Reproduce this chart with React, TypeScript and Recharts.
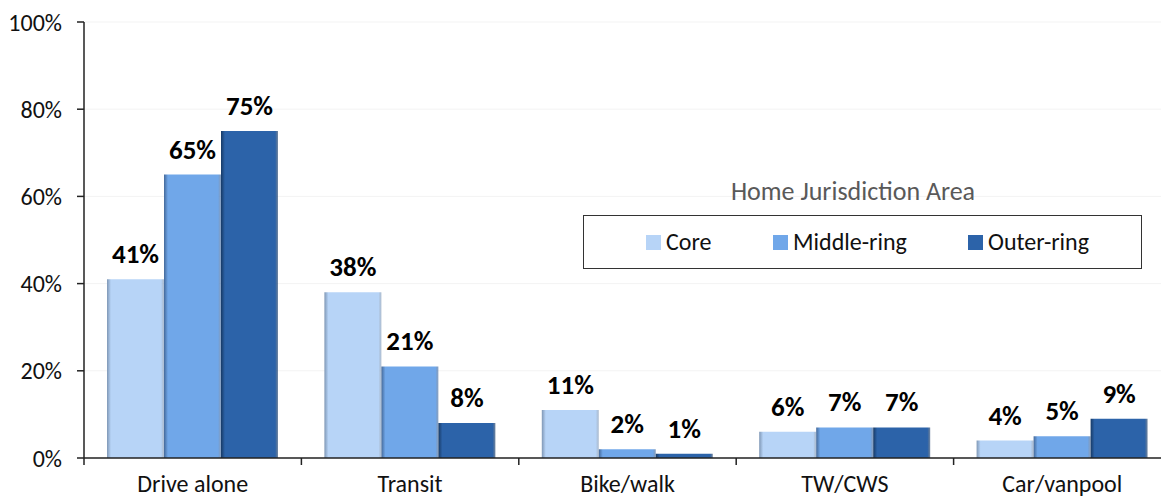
import React from 'react'
import { BarChart, Bar, XAxis, YAxis, CartesianGrid, LabelList } from 'recharts'

// mode share by home jurisdiction area
const categories = ['Drive alone', 'Transit', 'Bike/walk', 'TW/CWS', 'Car/vanpool']
const core = [41, 38, 11, 6, 4]
const middleRing = [65, 21, 2, 7, 5]
const outerRing = [75, 8, 1, 7, 9]
const yTicks = [0, 20, 40, 60, 80, 100]

const SERIES = [
  { key: 'core', name: 'Core', color: '#b7d4f7', edge: '#7f97b5' },
  { key: 'middle', name: 'Middle-ring', color: '#70a7e9', edge: '#44699a' },
  { key: 'outer', name: 'Outer-ring', color: '#2c63a9', edge: '#173a66' },
]

const FONT = "Carlito, Lato, 'Open Sans', sans-serif"

const data = categories.map((name, i) => ({
  name,
  core: core[i],
  middle: middleRing[i],
  outer: outerRing[i],
}))

const CategoryTick = (props: any) => {
  const { x, y, payload, width } = props
  const half = payload && payload.offset ? payload.offset : width / categories.length / 2
  const isLast = payload && payload.index === categories.length - 1
  return (
    <g>
      <line x1={x - half} y1={y} x2={x - half} y2={y + 7} stroke="#222" strokeWidth={1.5} />
      {isLast && <line x1={x + half} y1={y} x2={x + half} y2={y + 7} stroke="#222" strokeWidth={1.5} />}
      <text x={x} y={y + 34} textAnchor="middle" fontSize={24} fill="#111" fontFamily={FONT}>
        {payload.value}
      </text>
    </g>
  )
}

// legend drawn over the plot, like the original
const LegendBox = () => (
  <div style={{ position: 'absolute', left: 0, top: 0, fontFamily: FONT }}>
    <div
      style={{
        position: 'absolute',
        left: 653,
        top: 176,
        width: 400,
        textAlign: 'center',
        fontSize: 26,
        lineHeight: '30px',
        color: '#595959',
        whiteSpace: 'nowrap',
      }}
    >
      Home Jurisdiction Area
    </div>
    <div
      style={{
        position: 'absolute',
        left: 583,
        top: 215,
        width: 559,
        height: 54,
        border: '1px solid #333',
        boxSizing: 'border-box',
      }}
    >
      {SERIES.map((s, i) => (
        <div
          key={s.key}
          style={{
            position: 'absolute',
            left: [62, 189, 384][i],
            top: 11,
            display: 'flex',
            alignItems: 'center',
            fontSize: 24,
            lineHeight: '30px',
            color: '#111',
            whiteSpace: 'nowrap',
          }}
        >
          <span style={{ display: 'inline-block', width: 15, height: 15, background: s.color, marginRight: 5 }} />
          {s.name}
        </div>
      ))}
    </div>
  </div>
)

export default function App() {
  return (
    <div style={{ position: 'absolute', left: 0, top: 0, width: 1161, height: 498, overflow: 'hidden', background: '#fff' }}>
      <BarChart
        width={1171}
        height={498}
        data={data}
        margin={{ top: 22, right: 0, bottom: 0, left: 0 }}
        barCategoryGap={23}
        barGap={0}
      >
        <defs>
          {SERIES.map((s) => (
            <linearGradient key={s.key} id={`grad-${s.key}`} x1="0" y1="0" x2="1" y2="0">
              <stop offset="0%" stopColor={s.edge} />
              <stop offset="7%" stopColor={s.color} />
              <stop offset="95%" stopColor={s.color} />
              <stop offset="100%" stopColor={s.edge} stopOpacity={0.6} />
            </linearGradient>
          ))}
        </defs>
        <CartesianGrid vertical={false} stroke="#f3f3f3" />
        <XAxis
          dataKey="name"
          height={40}
          tickLine={false}
          tickSize={0}
          tickMargin={0}
          interval={0}
          axisLine={{ stroke: '#222', strokeWidth: 1.5 }}
          tick={<CategoryTick />}
        />
        <YAxis
          width={84}
          domain={[0, 100]}
          ticks={yTicks}
          interval={0}
          tickFormatter={(v: number) => `${v}%`}
          tickSize={7}
          tickMargin={15}
          axisLine={{ stroke: '#222', strokeWidth: 1.5 }}
          tickLine={{ stroke: '#222', strokeWidth: 1.5 }}
          tick={{ fontSize: 24, fill: '#111', fontFamily: FONT }}
        />
        {SERIES.map((s) => (
          <Bar key={s.key} dataKey={s.key} name={s.name} fill={`url(#grad-${s.key})`} isAnimationActive={false}>
            <LabelList
              dataKey={s.key}
              position="top"
              offset={16}
              formatter={(v: number) => `${v}%`}
              style={{ fontSize: 27, fontWeight: 700, fill: '#000', fontFamily: FONT }}
            />
          </Bar>
        ))}
      </BarChart>
      <LegendBox />
    </div>
  )
}
